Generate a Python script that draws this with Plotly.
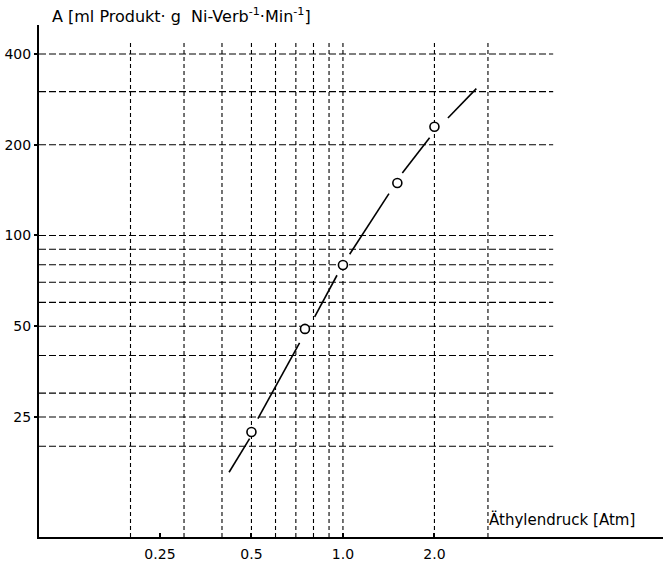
import plotly.graph_objects as go

# ---- data ----
pressure = [0.5, 0.75, 1.0, 1.51, 2.0]         # Äthylendruck [Atm]
activity = [22.3, 49.0, 79.8, 149.3, 229.5]    # A [ml Produkt g Ni-Verb^-1 Min^-1]

# hand-drawn curve through the points (segments broken at the circles)
curve_x = [0.422, 0.493, None, 0.525, 0.720, None, 0.807, 0.956, None,
           1.052, 1.417, None, 1.568, 1.928, None, 2.215, 2.747]
curve_y = [16.4, 21.2, None, 24.7, 44.0, None, 53.7, 73.8, None,
           86.6, 137.6, None, 161.2, 211.0, None, 245.3, 306.9]

grid_x = [0.2, 0.3, 0.4, 0.5, 0.6, 0.7, 0.8, 0.9, 1.0, 2.0, 3.0]
grid_y = [20, 25, 30, 40, 50, 60, 70, 80, 90, 100, 200, 300, 400]

x_tickvals = [0.25, 0.5, 1.0, 2.0]
x_ticktext = ["0.25", "0.5", "1.0", "2.0"]
y_tickvals = [25, 50, 100, 200, 400]
y_ticktext = ["25", "50", "100", "200", "400"]

FONT = "DejaVu Sans"

fig = go.Figure()

fig.add_trace(go.Scatter(
    x=curve_x, y=curve_y, mode="lines",
    line=dict(color="black", width=1.6),
    connectgaps=False, hoverinfo="skip", showlegend=False))

fig.add_trace(go.Scatter(
    x=pressure, y=activity, mode="markers",
    marker=dict(symbol="circle", size=9, color="white",
                line=dict(color="black", width=1.6)),
    showlegend=False))

shapes = []
for gx in grid_x:
    shapes.append(dict(type="line", xref="x", yref="paper",
                       x0=gx, x1=gx, y0=0, y1=0.969,
                       line=dict(color="black", width=1.1, dash="4px,3px"),
                       layer="below"))
for gy in grid_y:
    shapes.append(dict(type="line", xref="paper", yref="y",
                       x0=0, x1=0.824, y0=gy, y1=gy,
                       line=dict(color="black", width=1.1, dash="7px,3px"),
                       layer="below"))

fig.update_layout(
    width=664, height=563,
    margin=dict(l=39, r=1, t=25, b=26),
    paper_bgcolor="white", plot_bgcolor="white",
    shapes=shapes,
    font=dict(family=FONT, size=14, color="black"),
    xaxis=dict(type="log", range=[-1.0, 1.053], automargin=False,
               tickvals=x_tickvals, ticktext=x_ticktext,
               ticks="inside", ticklen=4, tickwidth=2, tickcolor="black",
               ticklabelstandoff=3,
               showgrid=False, zeroline=False,
               showline=True, linecolor="black", linewidth=2,
               tickfont=dict(family=FONT, size=14, color="black")),
    yaxis=dict(type="log", range=[1.0, 2.698], automargin=False,
               tickvals=y_tickvals, ticktext=y_ticktext,
               ticks="outside", ticklen=3, tickwidth=1.5, tickcolor="black",
               showgrid=False, zeroline=False,
               showline=True, linecolor="black", linewidth=2,
               tickfont=dict(family=FONT, size=14, color="black")),
    annotations=[
        dict(text="A [ml Produkt· g  Ni-Verb<sup>-1</sup>·Min<sup>-1</sup>]",
             xref="paper", yref="paper", x=0.0175, y=1.0,
             xanchor="left", yanchor="bottom", yshift=-3, showarrow=False,
             font=dict(family=FONT, size=16, color="black")),
        dict(text="Äthylendruck [Atm]",
             xref="paper", yref="paper", x=0.718, y=0.0,
             xanchor="left", yanchor="bottom", yshift=6, showarrow=False,
             font=dict(family=FONT, size=15, color="black")),
    ],
)

fig.write_html("out.html", config={"displayModeBar": False},
               post_script="document.body.style.margin='0';")
